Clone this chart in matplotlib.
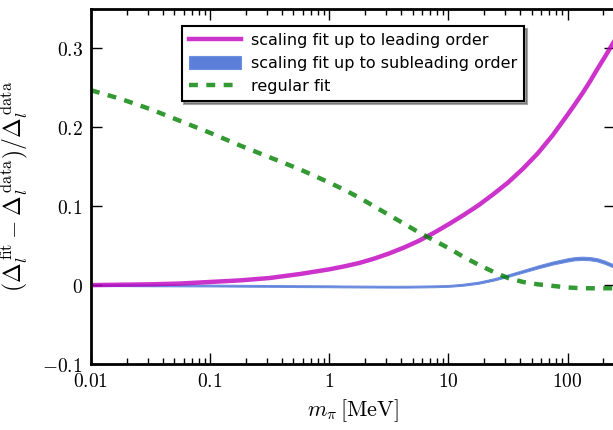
import numpy as np
import matplotlib
matplotlib.use('Agg')
import matplotlib.pyplot as plt
from matplotlib.ticker import FixedLocator, LogLocator, FuncFormatter, NullFormatter

plt.rcParams['mathtext.fontset'] = 'cm'
plt.rcParams['font.family'] = 'DejaVu Sans'

# pion masses in MeV
m_pi = [0.01, 0.0178, 0.0316, 0.0562, 0.1, 0.178, 0.316, 0.562,
        1, 1.33, 1.78, 2.37, 3.16, 4.22, 5.62, 7.5, 10, 13.3, 17.8, 23.7,
        31.6, 42.2, 56.2, 75, 100, 115, 133, 154, 178, 205, 237, 251]

# scaling fit, leading order
d_lead = [0.0, 0.0005, 0.001, 0.002, 0.004, 0.006, 0.009, 0.014,
          0.02, 0.0237, 0.028, 0.0335, 0.040, 0.0475, 0.056, 0.066, 0.077,
          0.0885, 0.101, 0.115, 0.13, 0.1475, 0.167, 0.190, 0.216, 0.229,
          0.243, 0.258, 0.274, 0.289, 0.305, 0.311]

# scaling fit, subleading order: central value and half width of the band
d_sub = [0.0, -0.0001, -0.0003, -0.0004, -0.0005, -0.0008, -0.001, -0.0013,
         -0.0015, -0.0017, -0.0018, -0.0019, -0.002, -0.002, -0.0018, -0.0015,
         -0.001, 0.0005, 0.003, 0.007, 0.012, 0.0175, 0.023, 0.028, 0.032,
         0.0335, 0.034, 0.0335, 0.032, 0.029, 0.025, 0.024]
d_sub_err = [0.0011, 0.0011, 0.0011, 0.0011, 0.0011, 0.0011, 0.0011, 0.0011,
             0.0011, 0.0011, 0.0011, 0.0011, 0.0011, 0.0011, 0.0011, 0.0011,
             0.0011, 0.0012, 0.0013, 0.0014, 0.0015, 0.0016, 0.0018, 0.0019,
             0.002, 0.002, 0.002, 0.002, 0.002, 0.002, 0.002, 0.002]

# regular fit
d_reg = [0.247, 0.236, 0.223, 0.208, 0.193, 0.177, 0.162, 0.147,
         0.130, 0.121, 0.111, 0.100, 0.089, 0.078, 0.067, 0.057, 0.047,
         0.036, 0.026, 0.017, 0.009, 0.004, 0.001, -0.001, -0.003, -0.0035,
         -0.004, -0.004, -0.004, -0.004, -0.004, -0.004]

sub = np.array(d_sub)
err = np.array(d_sub_err)

fig = plt.figure(figsize=(6.13, 4.30), dpi=100)
ax = fig.add_axes([91 / 613, 66 / 430, 524 / 613, 355 / 430])

ax.plot(m_pi, d_lead, color='m', alpha=0.8, lw=3.2,
        label='scaling fit up to leading order')
ax.fill_between(m_pi, sub - err, sub + err, facecolor='#5b7fd8',
                edgecolor='#6f8fe0', lw=0.8,
                label='scaling fit up to subleading order')
ax.plot(m_pi, d_reg, color='g', alpha=0.8, lw=3.2, ls=(0, (2, 1.9)),
        label='regular fit')

ax.set_xscale('log')
ax.set_xlim(0.01, 250)
ax.set_ylim(-0.1, 0.35)

ax.xaxis.set_major_locator(FixedLocator([0.01, 0.1, 1, 10, 100]))
ax.xaxis.set_minor_locator(LogLocator(base=10, subs=np.arange(2, 10)))
ax.xaxis.set_minor_formatter(NullFormatter())
ax.xaxis.set_major_formatter(FuncFormatter(lambda v, p: '$%g$' % v))
ax.yaxis.set_major_locator(FixedLocator([-0.1, 0, 0.1, 0.2, 0.3]))
ax.yaxis.set_major_formatter(FuncFormatter(lambda v, p: '$%g$' % round(v, 2)))

ax.tick_params(which='both', direction='in', top=True, right=True,
               labelsize=14, pad=6)
ax.tick_params(which='major', length=8, width=1)
ax.tick_params(which='minor', length=4, width=1)
for s in ax.spines.values():
    s.set_linewidth(2)

ax.set_xlabel(r'$m_\pi\,[\mathrm{MeV}]$', fontsize=16, labelpad=4)
ax.set_ylabel(r'$(\bar{\Delta}_l^{\,\mathrm{fit}}-\bar{\Delta}_l^{\,\mathrm{data}})'
              r'/\bar{\Delta}_l^{\,\mathrm{data}}$', fontsize=17, labelpad=8)

leg = ax.legend(loc='upper center', bbox_to_anchor=(0.5, 0.952), fontsize=11.5,
                handlelength=3.3, handleheight=0.85, handletextpad=0.6,
                labelspacing=0.5, borderpad=0.45, borderaxespad=0,
                shadow=True, fancybox=False, framealpha=1)
leg.get_frame().set_edgecolor('black')
leg.get_frame().set_linewidth(1.5)

fig.savefig('out.png', dpi=100)
